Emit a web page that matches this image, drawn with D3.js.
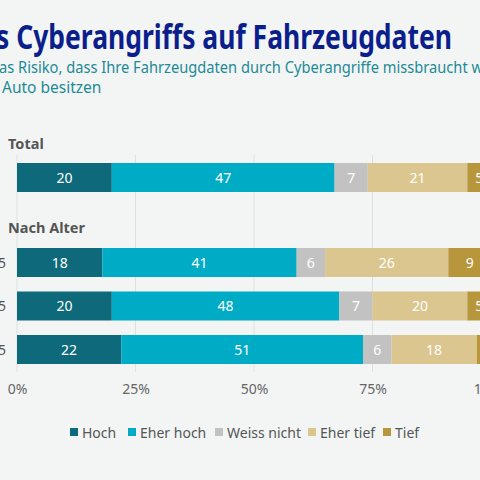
<!DOCTYPE html><html><head><meta charset="utf-8"><script src="https://cdn.jsdelivr.net/npm/d3@7"></script>
<style>body{margin:0;background:#f3f5f5}svg{display:block}text{font-family:"Source Sans Pro","Noto Sans",sans-serif}</style></head><body><svg width="480" height="480"></svg>
<script>
const categories=["Hoch","Eher hoch","Weiss nicht","Eher tief","Tief"];
const colors=["#0e6a7b","#00acc5","#c2c2c2","#dcc68f","#b8963c"];
const totalRow=["Total"];
const totalValues=[[20,47,7,21,5]];
const ageRows=["18–35","36–55","56–75"];
const ageValues=[[18,41,6,26,9],[20,48,7,20,5],[22,51,6,18,3]];
const ticks=[0,25,50,75,100];
const svg=d3.select("svg");
svg.append("rect").attr("width",480).attr("height",480).attr("fill","#f3f5f5");
const x=d3.scaleLinear().domain([0,100]).range([17,491]);
const navy="#0b1f8c", teal="#1d8a96";
svg.append("text").attr("x",-4).attr("y",49).attr("font-family","'Liberation Serif',Georgia,serif").attr("font-weight","bold").attr("font-size",34).attr("fill",navy).attr("textLength",456).attr("lengthAdjust","spacingAndGlyphs").text("s Cyberangriffs auf Fahrzeugdaten");
svg.append("text").attr("x",-1).attr("y",73).attr("font-size",15.5).attr("fill",teal).attr("textLength",484).attr("lengthAdjust","spacingAndGlyphs").text("as Risiko, dass Ihre Fahrzeugdaten durch Cyberangriffe missbraucht w");
svg.append("text").attr("x",2).attr("y",93).attr("font-size",15.5).attr("fill",teal).text("Auto besitzen");
const grid=svg.append("g");
[0,25,50,75].forEach(t=>grid.append("line").attr("x1",x(t)).attr("x2",x(t)).attr("y1",155).attr("y2",372).attr("stroke","#dde1e1"));
svg.append("text").attr("x",8).attr("y",149).attr("font-size",14.5).attr("font-weight","bold").attr("fill","#555").text("Total");
svg.append("text").attr("x",8).attr("y",233).attr("font-size",14.5).attr("font-weight","bold").attr("fill","#555").text("Nach Alter");
function drawRows(rows,vals,y0,step,showLabel){
 const y=d3.scalePoint().domain(rows).range([y0,y0+step*(rows.length-1)]);
 const h=29;
 rows.forEach((r,i)=>{
  let cum=0;const g=svg.append("g");
  if(showLabel) svg.append("text").attr("x",6).attr("y",y(r)+h/2+5).attr("text-anchor","end").attr("font-size",14).attr("fill","#555").text(r);
  vals[i].forEach((v,j)=>{
   g.append("rect").attr("x",x(cum)).attr("y",y(r)).attr("width",x(cum+v)-x(cum)).attr("height",h).attr("fill",colors[j]);
   if(v>=4) g.append("text").attr("x",(x(cum)+x(cum+v))/2).attr("y",y(r)+h/2+5).attr("text-anchor","middle").attr("font-size",14).attr("fill","#fff").text(v);
   cum+=v;
  });
 });
}
drawRows(totalRow,totalValues,163,44,false);
drawRows(ageRows,ageValues,248,43.5,true);
const ax=svg.append("g").attr("transform","translate(0,373)").call(d3.axisBottom(x).tickValues(ticks).tickFormat(d=>d+"%").tickSize(0).tickPadding(11));
ax.select(".domain").remove();
ax.selectAll("text").attr("font-size",14).attr("fill","#666").style("font-family","'Source Sans Pro','Noto Sans',sans-serif");
const lx=[70,128,215,308,383];
categories.forEach((c,i)=>{
 svg.append("rect").attr("x",lx[i]).attr("y",428).attr("width",8).attr("height",8).attr("fill",colors[i]);
 svg.append("text").attr("x",lx[i]+12).attr("y",438).attr("font-size",14).attr("fill","#555").text(c);
});
</script></body></html>
